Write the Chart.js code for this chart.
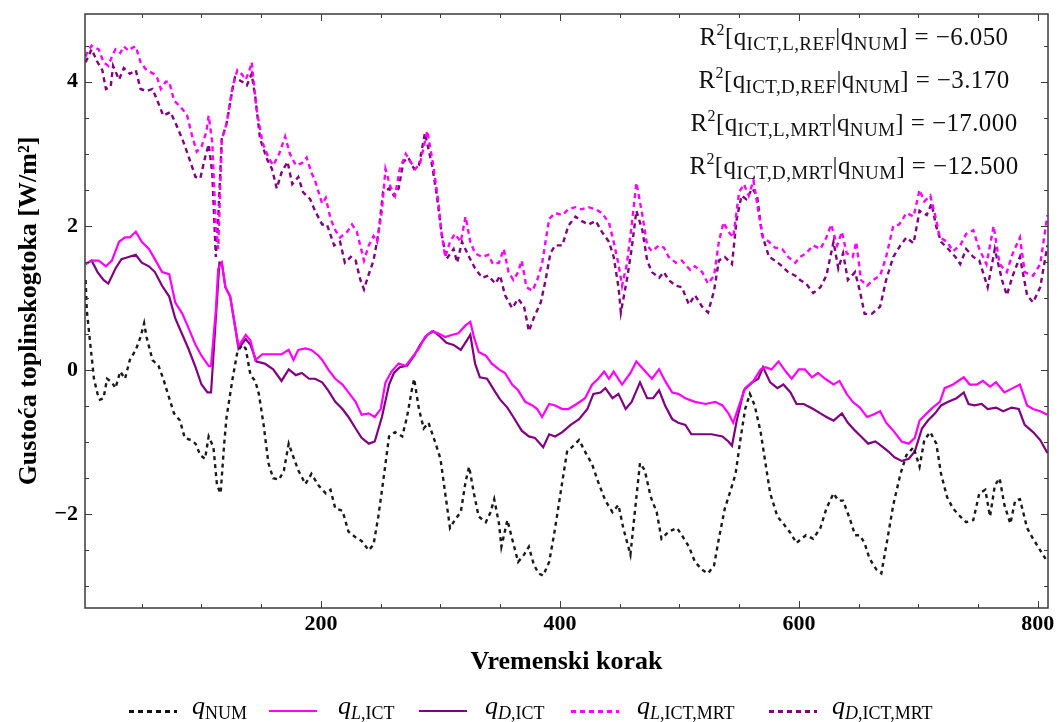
<!DOCTYPE html>
<html>
<head>
<meta charset="utf-8">
<script src="https://cdn.jsdelivr.net/npm/chart.js@4.4.1/dist/chart.umd.min.js"></script>
<style>
  body { margin: 0; background: #fff; }
  #wrap { position: relative; width: 1058px; height: 722px; font-family: "Liberation Serif", "Times New Roman", serif; color: #000; }
  #wrap canvas { position: absolute; left: 0; top: 0; }
  .r2 { position: absolute; left: 854px; transform: translateX(-50%); white-space: nowrap; font-size: 25px; line-height: 30px; letter-spacing: 0.4px; color: #111; }
  .r2 sub { font-size: 19px; vertical-align: -5px; line-height: 0; }
  .r2 sup { font-size: 16px; vertical-align: 10px; line-height: 0; }
  .leg-line { position: absolute; top: 710px; width: 48px; height: 3px; }
  .leg-text { position: absolute; top: 693px; font-size: 26px; line-height: 26px; white-space: nowrap; font-style: italic; }
  .leg-text sub { font-size: 18px; vertical-align: -5px; line-height: 0; font-style: normal; }
  .leg-text sub i { font-style: italic; }
</style>
</head>
<body>
<div id="wrap">
  <canvas id="flux" width="1058" height="722"></canvas>

  <div class="r2" style="top:22px">R<sup>2</sup>[q<sub>ICT,L,REF</sub>|q<sub>NUM</sub>] = −6.050</div>
  <div class="r2" style="top:65px">R<sup>2</sup>[q<sub>ICT,D,REF</sub>|q<sub>NUM</sub>] = −3.170</div>
  <div class="r2" style="top:108px">R<sup>2</sup>[q<sub>ICT,L,MRT</sub>|q<sub>NUM</sub>] = −17.000</div>
  <div class="r2" style="top:151px">R<sup>2</sup>[q<sub>ICT,D,MRT</sub>|q<sub>NUM</sub>] = −12.500</div>

  <div class="leg-line" style="left:129px;background:repeating-linear-gradient(to right,#111 0 5px,transparent 5px 9px)"></div>
  <div class="leg-text" style="left:192px">q<sub>NUM</sub></div>
  <div class="leg-line" style="left:269px;height:2px;background:#ff00ff"></div>
  <div class="leg-text" style="left:338px">q<sub><i>L</i>,ICT</sub></div>
  <div class="leg-line" style="left:419px;height:2px;background:#800080"></div>
  <div class="leg-text" style="left:485px">q<sub><i>D</i>,ICT</sub></div>
  <div class="leg-line" style="left:571px;background:repeating-linear-gradient(to right,#ff00ff 0 5px,transparent 5px 9px)"></div>
  <div class="leg-text" style="left:637px">q<sub><i>L</i>,ICT,MRT</sub></div>
  <div class="leg-line" style="left:769px;background:repeating-linear-gradient(to right,#800080 0 5px,transparent 5px 9px)"></div>
  <div class="leg-text" style="left:832px">q<sub><i>D</i>,ICT,MRT</sub></div>
</div>

<script>
// axis labels
const xTicks = [200, 400, 600, 800];
const yTicks = [-2, 0, 2, 4];

// q_NUM (black, dotted)
const numX = [3,4,7,10,13,15,18,21,25,28,
  32,36,40,45,49,52,54,59,64,68,
  73,77,82,86,91,95,99,103,106,110,
  113,116,119,121,126,130,134,137,141,145,
  148,152,156,160,165,169,173,177,181,187,
  192,198,204,208,212,218,223,229,234,240,
  244,248,252,257,262,268,272,276,278,282,
  286,290,296,300,304,308,312,317,321,324,
  328,332,338,342,345,349,351,356,360,365,
  370,374,378,382,386,391,395,399,403,406,
  410,416,421,427,432,438,444,449,453,459,
  463,467,471,476,481,485,491,498,502,508,
  513,519,524,529,533,538,543,547,551,555,
  559,563,568,572,576,582,587,593,598,602,
  606,612,618,623,629,633,637,643,647,651,
  655,659,665,669,673,679,685,690,696,701,
  705,710,715,719,724,729,735,740,746,751,
  756,760,764,768,772,777,781,785,791,796,
  802,808];
const numY = [1.25,0.83,0.35,-0.12,-0.33,-0.41,-0.39,-0.12,-0.17,-0.25,
  -0.02,-0.12,0.14,0.28,0.46,0.65,0.46,0.14,0.06,-0.12,
  -0.39,-0.6,-0.7,-0.94,-0.97,-1.02,-1.18,-1.23,-0.92,-1.07,
  -1.6,-1.71,-1.02,-0.65,-0.12,0.25,0.35,0.3,-0.07,-0.15,
  -0.33,-0.76,-1.29,-1.5,-1.52,-1.39,-1.02,-1.21,-1.39,-1.58,
  -1.44,-1.6,-1.71,-1.66,-1.92,-1.95,-2.24,-2.32,-2.37,-2.5,
  -2.42,-2.03,-1.55,-0.92,-0.86,-0.92,-0.65,-0.28,-0.12,-0.54,
  -0.81,-0.73,-1.02,-1.23,-1.71,-2.19,-2.08,-1.97,-1.55,-1.34,
  -1.71,-2.03,-2.11,-1.97,-1.79,-2.13,-2.45,-2.08,-2.34,-2.66,
  -2.56,-2.45,-2.69,-2.82,-2.85,-2.66,-2.29,-1.87,-1.44,-1.13,
  -1.07,-0.97,-1.13,-1.31,-1.55,-1.81,-1.97,-1.87,-2.19,-2.56,
  -1.92,-1.29,-1.39,-1.76,-1.97,-2.34,-2.24,-2.19,-2.29,-2.45,
  -2.66,-2.77,-2.82,-2.71,-2.34,-1.92,-1.66,-1.44,-0.97,-0.54,
  -0.33,-0.49,-0.86,-1.29,-1.71,-2.03,-2.13,-2.26,-2.4,-2.34,
  -2.29,-2.34,-2.19,-1.92,-1.71,-1.81,-1.81,-2.08,-2.29,-2.29,
  -2.4,-2.61,-2.77,-2.82,-2.45,-1.87,-1.44,-1.18,-1.07,-1.34,
  -0.97,-0.86,-1.02,-1.44,-1.76,-1.92,-2.03,-2.11,-2.08,-1.71,
  -1.66,-2.03,-1.6,-1.5,-1.87,-2.13,-1.81,-1.79,-2.19,-2.34,
  -2.5,-2.66];

// q_L,ICT (magenta, solid)
const lictX = [3,8,14,20,25,31,36,40,45,50,
  56,61,67,73,78,84,89,95,100,106,
  108,112,114,117,120,124,127,131,137,141,
  145,151,156,162,167,173,177,181,187,192,
  198,201,206,212,218,223,229,234,240,245,
  250,254,259,265,271,276,282,287,293,298,
  304,310,315,321,325,328,332,338,343,349,
  354,360,365,371,377,381,385,391,396,402,
  407,414,421,427,432,437,441,445,452,459,
  464,470,477,483,488,494,499,505,513,522,
  530,536,541,545,550,555,562,568,572,577,
  583,589,594,600,605,611,616,622,629,634,
  640,645,651,657,662,668,673,679,686,692,
  697,701,707,712,718,722,729,738,743,749,
  754,760,765,772,779,785,791,796,802,808];
const lictY = [1.47,1.52,1.52,1.44,1.52,1.78,1.84,1.84,1.92,1.78,
  1.68,1.54,1.36,1.33,0.94,0.78,0.59,0.35,0.2,0.06,
  0.06,0.83,1.41,1.49,1.15,1.02,0.72,0.33,0.49,0.41,
  0.14,0.22,0.22,0.22,0.22,0.28,0.14,0.28,0.3,0.28,
  0.2,0.14,0.01,-0.12,-0.2,-0.31,-0.44,-0.62,-0.6,-0.65,
  -0.54,-0.17,-0.02,0.09,0.06,0.17,0.3,0.46,0.54,0.51,
  0.46,0.49,0.51,0.62,0.67,0.46,0.25,0.2,0.09,0.01,
  -0.04,-0.2,-0.28,-0.44,-0.49,-0.54,-0.65,-0.47,-0.49,-0.54,
  -0.54,-0.47,-0.39,-0.2,-0.12,-0.02,-0.12,-0.02,-0.2,-0.04,
  0.12,0.01,-0.12,0.01,-0.15,-0.31,-0.33,-0.39,-0.44,-0.47,
  -0.44,-0.49,-0.6,-0.73,-0.49,-0.25,-0.15,0.01,0.04,0.01,
  0.12,-0.02,-0.12,0.01,0.01,-0.1,-0.04,-0.12,-0.2,-0.15,
  -0.33,-0.44,-0.52,-0.65,-0.62,-0.57,-0.73,-0.84,-0.99,-1.02,
  -0.94,-0.7,-0.6,-0.52,-0.44,-0.25,-0.2,-0.1,-0.2,-0.2,
  -0.15,-0.23,-0.17,-0.31,-0.25,-0.2,-0.49,-0.54,-0.57,-0.62];

// q_D,ICT (purple, solid)
const dictX = [3,8,13,18,22,28,33,39,45,50,
  56,61,67,73,78,84,89,95,100,105,
  108,112,115,117,120,124,127,131,137,141,
  146,153,160,167,173,179,184,190,195,201,
  206,212,218,223,229,234,240,245,251,257,
  261,266,272,278,283,289,294,300,305,311,
  317,322,325,329,333,339,345,350,356,361,
  368,374,379,386,391,396,402,409,416,423,
  428,434,438,444,449,455,460,467,473,478,
  483,488,494,499,505,510,519,527,536,541,
  544,548,554,561,566,570,576,582,587,593,
  598,604,612,618,623,629,636,641,647,652,
  658,664,669,675,680,686,692,697,703,708,
  714,719,725,732,738,742,747,753,758,765,
  771,778,784,789,796,802,808];
const dictY = [1.47,1.52,1.36,1.25,1.2,1.41,1.54,1.57,1.6,1.49,
  1.44,1.36,1.17,1.02,0.72,0.49,0.3,0.04,-0.2,-0.31,
  -0.31,0.72,1.49,1.49,1.15,1.02,0.72,0.3,0.43,0.35,
  0.12,0.09,0.01,-0.15,0.01,-0.07,-0.04,-0.12,-0.12,-0.17,
  -0.28,-0.44,-0.54,-0.65,-0.81,-0.94,-1.02,-0.99,-0.65,-0.2,
  -0.04,0.04,0.06,0.2,0.35,0.49,0.54,0.46,0.38,0.35,
  0.28,0.41,0.49,0.09,-0.1,-0.12,-0.28,-0.41,-0.52,-0.65,
  -0.84,-0.92,-0.94,-1.07,-0.89,-0.92,-0.86,-0.76,-0.68,-0.54,
  -0.33,-0.31,-0.25,-0.39,-0.33,-0.54,-0.44,-0.17,-0.39,-0.39,
  -0.28,-0.49,-0.68,-0.73,-0.76,-0.89,-0.89,-0.89,-0.92,-0.99,
  -1.05,-0.7,-0.28,-0.17,-0.12,0.04,-0.17,-0.25,-0.2,-0.31,
  -0.47,-0.47,-0.54,-0.6,-0.65,-0.7,-0.6,-0.73,-0.84,-0.92,
  -1.02,-0.99,-1.05,-1.13,-1.21,-1.26,-1.23,-1.13,-0.81,-0.7,
  -0.6,-0.49,-0.44,-0.39,-0.31,-0.47,-0.49,-0.47,-0.54,-0.52,
  -0.57,-0.52,-0.54,-0.76,-0.86,-0.97,-1.15];

// q_L,ICT,MRT (magenta, dashed)
const lmrtX = [3,5,8,11,14,18,22,25,28,32,
  35,39,42,45,49,54,60,63,66,70,
  73,77,82,85,88,92,96,100,104,106,
  109,112,114,117,121,126,130,134,137,140,
  142,146,151,156,160,165,170,174,179,184,
  188,192,195,201,204,208,212,216,222,226,
  230,236,240,244,247,251,254,258,262,266,
  271,275,279,283,289,294,298,301,304,308,
  312,317,321,325,329,335,340,344,349,353,
  357,361,365,368,372,377,381,385,391,396,
  402,407,413,418,424,430,435,441,445,449,
  452,456,460,464,469,473,477,483,487,491,
  497,502,509,513,519,524,529,533,537,541,
  545,550,554,558,562,566,570,575,580,586,
  591,597,601,606,612,618,623,627,632,636,
  640,645,648,652,657,662,668,673,679,684,
  690,696,701,705,710,714,718,724,729,735,
  740,746,751,757,763,768,774,779,785,789,
  796,802,808];
const lmrtY = [4.35,4.43,4.5,4.47,4.45,4.27,4.22,4.35,4.45,4.4,
  4.49,4.43,4.47,4.49,4.27,4.16,4.11,4.05,3.9,4.0,
  4.0,3.74,3.66,3.6,3.53,3.26,3.03,3.1,3.3,3.53,
  3.16,1.99,1.68,3.2,3.42,3.93,4.16,4.1,4.03,4.15,
  4.27,3.63,3.16,2.95,2.84,3.0,3.24,3.0,2.84,2.87,
  2.95,2.74,2.63,2.31,2.39,2.1,1.94,1.84,1.92,2.02,
  1.92,1.52,1.73,1.86,1.78,2.21,2.79,2.55,2.42,2.79,
  3.0,2.89,2.79,2.87,3.32,2.84,2.37,1.89,1.57,1.78,
  1.89,1.78,2.13,1.78,1.62,1.57,1.6,1.47,1.49,1.68,
  1.36,1.25,1.36,1.52,1.15,1.1,1.25,1.47,2.1,2.18,
  2.15,2.23,2.26,2.23,2.26,2.23,2.18,2.05,1.78,1.47,
  1.17,1.47,2.0,2.6,2.15,1.73,1.65,1.73,1.7,1.57,
  1.49,1.52,1.39,1.44,1.36,1.2,1.31,1.78,2.05,1.92,
  1.84,2.47,2.58,2.42,2.63,2.21,1.84,1.78,1.7,1.68,
  1.57,1.49,1.57,1.62,1.73,1.68,1.84,2.02,1.73,1.92,
  1.62,1.57,1.78,1.25,1.17,1.25,1.31,1.57,2.0,2.02,
  2.18,2.13,2.5,2.34,2.42,2.15,1.84,1.78,1.65,1.73,
  1.89,1.94,1.68,1.47,2.0,1.47,1.36,1.62,1.84,1.36,
  1.31,1.47,2.15];

// q_D,ICT,MRT (purple, dashed)
const dmrtX = [3,8,13,17,20,24,26,31,35,40,
  45,49,54,59,63,68,74,79,85,89,
  95,99,103,106,109,112,114,117,121,126,
  128,134,138,142,145,149,155,159,163,167,
  172,176,181,185,191,195,201,205,211,216,
  220,225,229,233,236,240,244,248,252,257,
  261,265,269,273,278,282,287,293,297,301,
  305,311,314,318,324,329,335,340,346,350,
  354,360,365,370,374,378,384,388,392,396,
  402,407,413,418,424,430,435,441,445,449,
  451,456,460,464,469,473,477,483,487,491,
  497,502,508,513,519,524,529,533,538,544,
  548,552,556,561,565,569,575,580,586,591,
  597,601,606,612,618,623,629,633,637,641,
  647,651,655,661,668,673,679,685,690,696,
  701,707,711,715,719,725,731,735,740,746,
  751,758,764,770,774,779,785,791,796,802,
  808];
const dmrtY = [4.27,4.45,4.27,4.16,3.9,3.93,4.22,4.03,4.19,4.11,
  4.16,3.9,3.87,3.9,3.74,3.53,3.58,3.4,3.16,2.97,
  2.68,2.66,2.95,3.13,2.74,1.57,2.1,3.21,3.42,3.9,
  4.06,4.0,3.95,4.11,3.79,3.21,2.92,2.79,2.52,2.74,
  2.89,2.58,2.68,2.47,2.37,2.21,2.02,2.02,1.73,1.78,
  1.49,1.57,1.52,1.25,1.12,1.33,1.52,1.89,2.47,2.52,
  2.42,2.52,2.89,2.95,2.79,2.84,3.29,2.84,2.42,1.89,
  1.54,1.68,1.49,1.78,1.57,1.41,1.28,1.31,1.2,1.31,
  1.04,0.86,0.99,0.88,0.54,0.72,0.94,1.25,1.62,1.73,
  1.73,2.0,2.13,2.07,2.02,2.07,1.92,1.78,1.57,1.15,
  0.8,1.25,1.68,2.21,1.94,1.52,1.36,1.28,1.36,1.25,
  1.17,1.15,0.91,1.04,0.88,0.8,1.1,1.52,1.57,1.47,
  2.1,2.42,2.37,2.52,2.42,1.89,1.57,1.52,1.44,1.36,
  1.31,1.25,1.2,1.07,1.15,1.31,1.78,1.41,1.62,1.25,
  1.36,1.1,0.78,0.78,0.88,1.25,1.57,1.73,1.84,1.76,
  2.21,2.15,2.31,1.99,1.78,1.68,1.57,1.47,1.68,1.57,
  1.52,1.15,1.68,1.25,1.04,1.31,1.57,1.04,0.94,1.15,
  1.73];

const serif = "'Liberation Serif', 'Times New Roman', serif";

function pts(xs, ys) {
  return xs.map((x, i) => ({ x: x, y: ys[i] }));
}

function minusLabel(v) {
  return v < 0 ? "\u2212" + Math.abs(v) : String(v);
}

// frame + inward ticks on all four sides
const frameTicks = {
  id: "frameTicks",
  afterDraw(chart) {
    const { ctx, chartArea: a, scales } = chart;
    const x = scales.x;
    const y = scales.y;
    ctx.save();
    ctx.strokeStyle = "#3a3a3a";
    ctx.lineWidth = 1;
    ctx.beginPath();
    for (let v = 50; v <= 800; v += 50) {
      const px = Math.round(x.getPixelForValue(v)) + 0.5;
      const len = v % 200 === 0 ? 7 : 4;
      ctx.moveTo(px, a.bottom);
      ctx.lineTo(px, a.bottom - len);
      ctx.moveTo(px, a.top);
      ctx.lineTo(px, a.top + len);
    }
    for (let v = -3; v <= 4.5; v += 0.5) {
      const py = Math.round(y.getPixelForValue(v)) + 0.5;
      const len = v % 2 === 0 ? 7 : 4;
      ctx.moveTo(a.left, py);
      ctx.lineTo(a.left + len, py);
      ctx.moveTo(a.right, py);
      ctx.lineTo(a.right - len, py);
    }
    ctx.stroke();
    ctx.lineWidth = 1.5;
    ctx.strokeRect(a.left, a.top, a.right - a.left, a.bottom - a.top);
    ctx.restore();
  },
};

const ctx = document.getElementById("flux").getContext("2d");

new Chart(ctx, {
  type: "line",
  data: {
    datasets: [
      {
        label: "q_NUM",
        data: pts(numX, numY),
        borderColor: "#1a1a1a",
        borderWidth: 2.4,
        borderDash: [4, 4],
      },
      {
        label: "q_L,ICT",
        data: pts(lictX, lictY),
        borderColor: "#ff00ff",
        borderWidth: 2.2,
      },
      {
        label: "q_D,ICT",
        data: pts(dictX, dictY),
        borderColor: "#800080",
        borderWidth: 2.2,
      },
      {
        label: "q_L,ICT,MRT",
        data: pts(lmrtX, lmrtY),
        borderColor: "#ff00ff",
        borderWidth: 2.4,
        borderDash: [5, 4],
      },
      {
        label: "q_D,ICT,MRT",
        data: pts(dmrtX, dmrtY),
        borderColor: "#800080",
        borderWidth: 2.4,
        borderDash: [5, 4],
      },
    ],
  },
  options: {
    responsive: false,
    animation: false,
    layout: {
      padding: { left: 10, right: 10, top: 14, bottom: 40 },
    },
    elements: {
      point: { radius: 0 },
      line: { tension: 0, fill: false },
    },
    plugins: {
      legend: { display: false },
      tooltip: { enabled: false },
    },
    scales: {
      x: {
        type: "linear",
        min: 2.5,
        max: 808.5,
        grid: { display: false, drawTicks: false },
        border: { display: false },
        afterBuildTicks(scale) {
          scale.ticks = xTicks.map((v) => ({ value: v }));
        },
        ticks: {
          maxRotation: 0,
          autoSkip: false,
          padding: 3,
          color: "#000",
          font: { family: serif, size: 22, weight: "bold" },
          callback: (v) => String(v),
        },
        title: {
          display: true,
          text: "Vremenski korak",
          color: "#000",
          font: { family: serif, size: 26, weight: "bold" },
        },
        afterFit(scale) {
          scale.height = 74;
          scale.paddingLeft = 0;
          scale.paddingRight = 0;
        },
      },
      y: {
        type: "linear",
        min: -3.3,
        max: 4.94,
        grid: { display: false, drawTicks: false },
        border: { display: false },
        afterBuildTicks(scale) {
          scale.ticks = yTicks.map((v) => ({ value: v }));
        },
        ticks: {
          padding: 7,
          color: "#000",
          font: { family: serif, size: 22, weight: "bold" },
          callback: (v) => minusLabel(v),
        },
        title: {
          display: true,
          text: "Gustoća toplinskogtoka [W/m²]",
          color: "#000",
          font: { family: serif, size: 26, weight: "bold" },
        },
        afterFit(scale) {
          scale.width = 75;
          scale.paddingTop = 0;
          scale.paddingBottom = 0;
        },
      },
    },
  },
  plugins: [frameTicks],
});
</script>
</body>
</html>
